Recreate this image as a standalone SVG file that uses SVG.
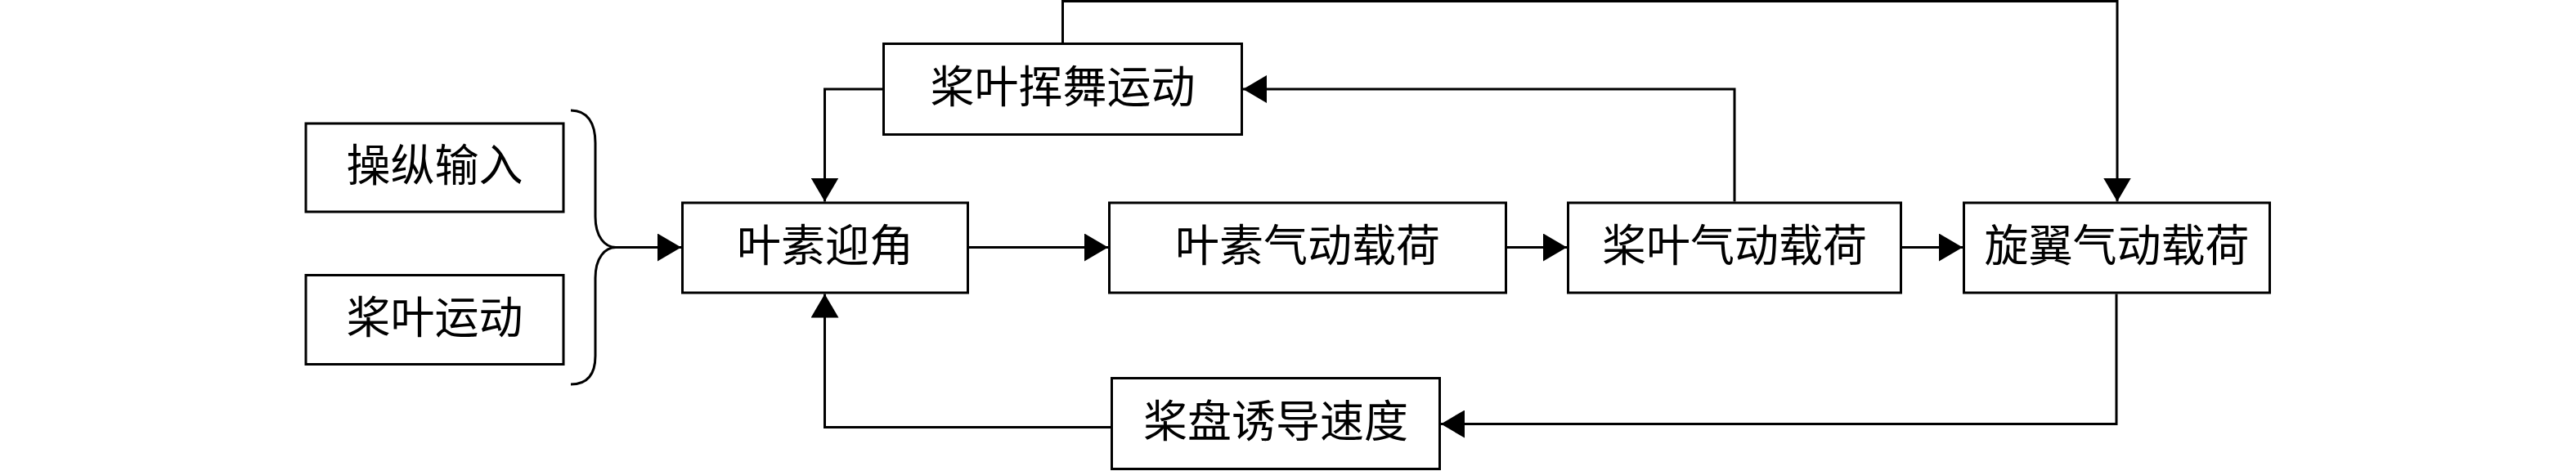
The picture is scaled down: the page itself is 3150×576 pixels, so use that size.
<svg xmlns="http://www.w3.org/2000/svg" width="3150" height="576" viewBox="0 0 3150 576">
<style>
.box{fill:#fff;stroke:#000;stroke-width:3}
.lbl{font-family:"Liberation Serif","Noto Sans CJK SC",serif;font-size:54px;fill:#000;text-anchor:middle}
.con{fill:none;stroke:#000;stroke-width:3}
</style>
<defs>
<marker id="arr" markerUnits="userSpaceOnUse" markerWidth="30" markerHeight="34" refX="29" refY="17" orient="auto">
<path d="M0,0 L29,17 L0,34 Z" fill="#000"/>
</marker>
</defs>
<rect width="3150" height="576" fill="#fff"/>
<g id="connectors">
<path class="con" d="M698,135 C718,135 728,150 728,175 L728,265 C728,290 740,302.5 753,302.5 C740,302.5 728,315 728,340 L728,435 C728,458 718,470 698,470"/>
<path class="con" d="M753,302.5 L833,302.5" marker-end="url(#arr)"/>
<path class="con" d="M1185,302.5 L1355,302.5" marker-end="url(#arr)"/>
<path class="con" d="M1843,302.5 L1916,302.5" marker-end="url(#arr)"/>
<path class="con" d="M2326,302.5 L2400,302.5" marker-end="url(#arr)"/>
<path class="con" d="M2121,246.5 L2121,109 L1520,109" marker-end="url(#arr)"/>
<path class="con" d="M1079,109 L1008.5,109 L1008.5,246.5" marker-end="url(#arr)"/>
<path class="con" d="M1299.5,52 L1299.5,1.5 L2589,1.5 L2589,246.5" marker-end="url(#arr)"/>
<path class="con" d="M2588,359.5 L2588,518.5 L1762,518.5" marker-end="url(#arr)"/>
<path class="con" d="M1358,522.5 L1008.5,522.5 L1008.5,359.5" marker-end="url(#arr)"/>
</g>
<g id="n_caozong"><rect class="box" x="374" y="151" width="315" height="108"/><text class="lbl" x="531.5" y="222">操纵输入</text></g>
<g id="n_jiangye_yundong"><rect class="box" x="374" y="336.5" width="315" height="109"/><text class="lbl" x="531.5" y="408">桨叶运动</text></g>
<g id="n_yesu_yingjiao"><rect class="box" x="834.5" y="248" width="349" height="110"/><text class="lbl" x="1009" y="320">叶素迎角</text></g>
<g id="n_huiwu"><rect class="box" x="1080.5" y="53.5" width="438" height="111"/><text class="lbl" x="1299.5" y="126">桨叶挥舞运动</text></g>
<g id="n_yesu_zaihe"><rect class="box" x="1356.5" y="248" width="485" height="110"/><text class="lbl" x="1599" y="320">叶素气动载荷</text></g>
<g id="n_jiangye_zaihe"><rect class="box" x="1917.5" y="248" width="407" height="110"/><text class="lbl" x="2121" y="320">桨叶气动载荷</text></g>
<g id="n_xuanyi_zaihe"><rect class="box" x="2401.5" y="248" width="374" height="110"/><text class="lbl" x="2588.5" y="320">旋翼气动载荷</text></g>
<g id="n_jiangpan"><rect class="box" x="1359.5" y="462.5" width="401" height="111"/><text class="lbl" x="1560" y="535">桨盘诱导速度</text></g>
</svg>
